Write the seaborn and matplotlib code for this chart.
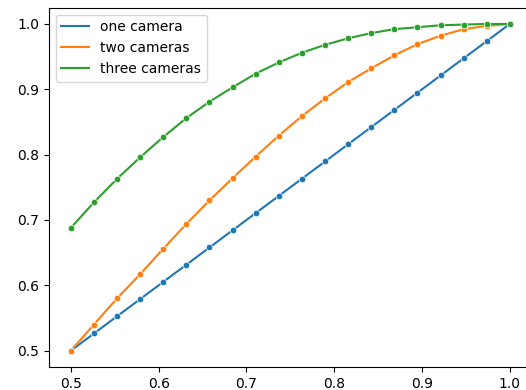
import matplotlib
matplotlib.use("Agg")
import matplotlib.pyplot as plt
import seaborn as sns
import pandas as pd

x = [0.5, 0.5263, 0.5526, 0.5789, 0.6053, 0.6316, 0.6579, 0.6842, 0.7105, 0.7368,
     0.7632, 0.7895, 0.8158, 0.8421, 0.8684, 0.8947, 0.9211, 0.9474, 0.9737, 1.0]
one_camera = [0.5, 0.5263, 0.5526, 0.5789, 0.6053, 0.6316, 0.6579, 0.6842, 0.7105, 0.7368,
              0.7632, 0.7895, 0.8158, 0.8421, 0.8684, 0.8947, 0.9211, 0.9474, 0.9737, 1.0]
two_cameras = [0.5, 0.540, 0.580, 0.617, 0.656, 0.694, 0.730, 0.764, 0.797, 0.829,
               0.859, 0.886, 0.911, 0.932, 0.952, 0.969, 0.982, 0.992, 0.997, 1.0]
three_cameras = [0.688, 0.727, 0.763, 0.796, 0.827, 0.856, 0.881, 0.903, 0.924, 0.941,
                 0.956, 0.968, 0.978, 0.986, 0.992, 0.995, 0.998, 0.999, 1.0, 1.0]
labels = ["one camera", "two cameras", "three cameras"]
colors = ["#1f77b4", "#ff7f0e", "#2ca02c"]

fig = plt.figure(figsize=(5.26, 3.90), dpi=100)
ax = fig.add_axes([0.093, 0.059, 0.918, 0.9215])

for ys, lab, c in zip([one_camera, two_cameras, three_cameras], labels, colors):
    df = pd.DataFrame({"x": x, "y": ys})
    sns.lineplot(data=df, x="x", y="y", ax=ax, color=c, label=lab, linewidth=1.5)
    sns.scatterplot(data=df, x="x", y="y", ax=ax, color=c, s=22, linewidth=0.5,
                    edgecolor="white", legend=False, zorder=3)

ax.set_xlim(0.475, 1.025)
ax.set_ylim(0.475, 1.025)
ax.set_xticks([0.5, 0.6, 0.7, 0.8, 0.9, 1.0])
ax.set_yticks([0.5, 0.6, 0.7, 0.8, 0.9, 1.0])
ax.set_xlabel("")
ax.set_ylabel("")
ax.legend(loc="upper left")
fig.savefig("out.png", dpi=100)
